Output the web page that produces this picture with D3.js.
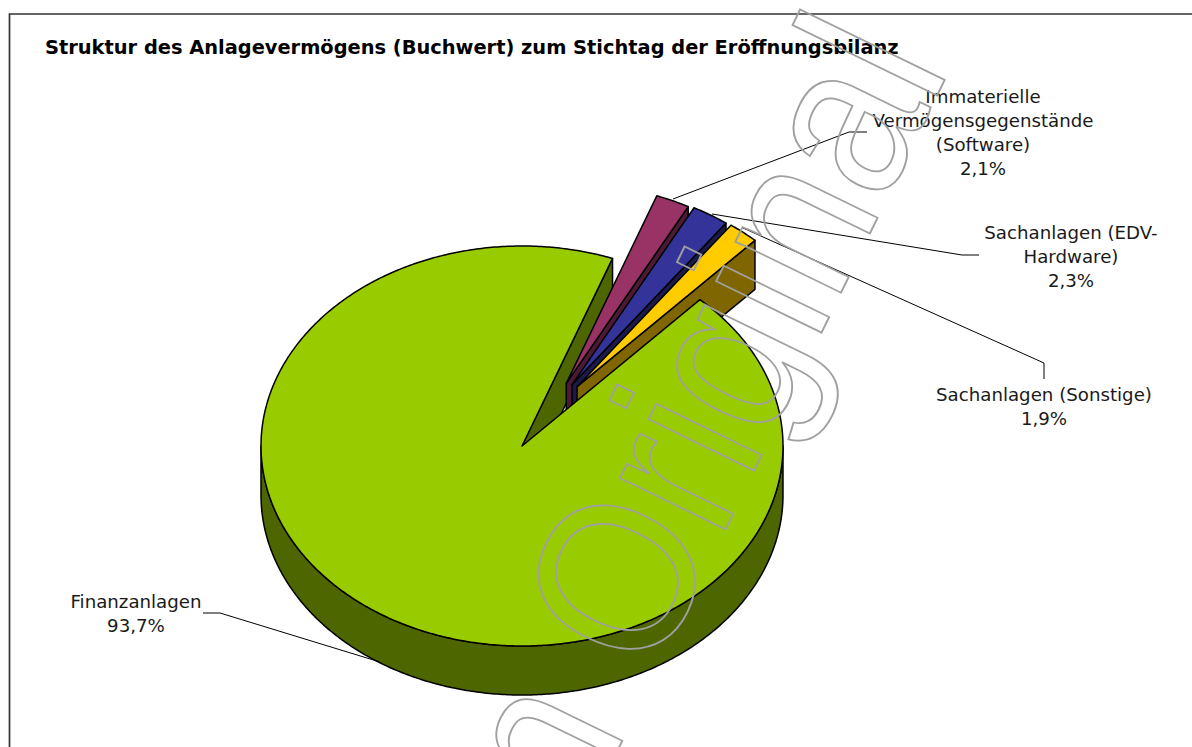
<!DOCTYPE html>
<html lang="de">
<head>
    <meta charset="UTF-8">
    <script src="https://cdn.jsdelivr.net/npm/d3@7"></script>
    <title>Struktur des Anlagevermögens</title>
    <style>
        * { margin: 0; padding: 0; box-sizing: border-box; }
        body { background: white; overflow: hidden; }
        svg { display: block; }
        text { font-family: "DejaVu Sans", Verdana, sans-serif; fill: #1a1a1a; }
    </style>
</head>
<body>
    <svg width="1192" height="747"></svg>
    <script>
        let categories = ['Immaterielle Vermögensgegenstände (Software)', 'Sachanlagen (EDV-Hardware)', 'Sachanlagen (Sonstige)', 'Finanzanlagen']
        let shares = [2.1, 2.3, 1.9, 93.7]
        let explosion = [0.356, 0.362, 0.364]
        let topColors = ['#993366', '#333399', '#ffcc00', '#99cc00']
        let wallColors = ['#4d1a33', '#1a1a4d', '#806600', '#4d6600']
        let labelLines = [
            ['Immaterielle', 'Vermögensgegenstände', '(Software)', '2,1%'],
            ['Sachanlagen (EDV-', 'Hardware)', '2,3%'],
            ['Sachanlagen (Sonstige)', '1,9%'],
            ['Finanzanlagen', '93,7%']
        ]
        let labelCenters = [[983, 97], [1071, 233], [1044, 395], [136, 602]]
        let leaders = [
            [[673, 199], [849, 132], [867, 132]],
            [[712, 214], [962, 255], [979, 255]],
            [[743, 228], [1044, 363], [1044, 379]],
            [[380, 662], [220, 613], [203, 613]]
        ]

        const cx = 522, cy = 446, rx = 261, ry = 200, depth = 49
        const startDeg = 20.3, lineGap = 24
        const fanCenter = 32 * Math.PI / 180, fan = 0.45

        let svg = d3.select('svg')
        let color = d3.scaleOrdinal().domain(categories).range(topColors)
        let wall = d3.scaleOrdinal().domain(categories).range(wallColors)

        let pie = d3.pie().sort(null)
            .startAngle(startDeg * Math.PI / 180)
            .endAngle((startDeg + 360) * Math.PI / 180)
        let arcs = pie(shares).map((d, i) => ({ ...d, name: categories[i], k: explosion[i] }))

        // tilted pie: angle -> point on the ellipse
        let project = (a, k = 1) => [rx * k * Math.sin(a), -ry * k * Math.cos(a)]
        let line = d3.line()

        function arcPoints(a0, a1, dx, dy) {
            let n = Math.ceil(Math.abs(a1 - a0) / 0.01)
            return d3.range(n + 1).map(i => {
                let p = project(a0 + (a1 - a0) * i / n)
                return [p[0] + dx, p[1] + dy]
            })
        }

        let g = svg.append('g').attr('transform', `translate(${cx},${cy})`)
        let addPath = (pts, fill) => g.append('path')
            .attr('d', line(pts) + 'Z')
            .attr('fill', fill)
            .attr('stroke', 'black')
            .attr('stroke-width', 1.5)
            .attr('stroke-linejoin', 'round')

        let main = arcs[3]

        // inner wall of the big slice, seen through the gap
        let edgePt = project(main.endAngle)
        addPath([[0, 0], edgePt, [edgePt[0], edgePt[1] + depth], [0, depth]], wall(main.name))

        // exploded slices, back to front
        arcs.slice(0, 3).forEach(d => {
            let mid = (d.startAngle + d.endAngle) / 2
            let off = project(fanCenter + fan * (mid - fanCenter), d.k)
            let outer = project(d.endAngle)
            let x1 = outer[0] + off[0], y1 = outer[1] + off[1]
            addPath([off, [x1, y1], [x1, y1 + depth], [off[0], off[1] + depth]], wall(d.name))
            addPath([off, ...arcPoints(d.startAngle, d.endAngle, off[0], off[1])], color(d.name))
        })

        // outer wall, front half of the big slice only
        let front = arcPoints(Math.PI / 2, 3 * Math.PI / 2, 0, 0)
        let frontLow = arcPoints(3 * Math.PI / 2, Math.PI / 2, 0, depth)
        addPath([...front, ...frontLow], wall(main.name))
        addPath([[0, 0], ...arcPoints(main.startAngle, main.endAngle, 0, 0)], color(main.name))

        // leader lines
        svg.selectAll('.leader')
            .data(leaders)
            .join('path')
            .attr('class', 'leader')
            .attr('d', d => line(d))
            .attr('fill', 'none')
            .attr('stroke', 'black')
            .attr('stroke-width', 1)

        // labels
        labelLines.forEach((lines, i) => {
            svg.append('text')
                .attr('text-anchor', 'middle')
                .attr('font-size', 18.2)
                .selectAll('tspan')
                .data(lines)
                .join('tspan')
                .attr('x', labelCenters[i][0])
                .attr('y', (d, j) => labelCenters[i][1] + j * lineGap + 6)
                .text(d => d)
        })

        svg.append('text')
            .attr('x', 45)
            .attr('y', 54)
            .attr('font-size', 19.4)
            .attr('font-weight', 'bold')
            .style('fill', 'black')
            .text('Struktur des Anlagevermögens (Buchwert) zum Stichtag der Eröffnungsbilanz')

        // frame, open on the right and at the bottom
        svg.append('path')
            .attr('d', line([[9.5, 747], [9.5, 14], [1192, 14]]))
            .attr('fill', 'none')
            .attr('stroke', '#333')
            .attr('stroke-width', 1.7)

        // watermark
        svg.append('text')
            .attr('transform', 'translate(950.5,68) rotate(-64) scale(0.89,1)')
            .attr('text-anchor', 'end')
            .attr('font-size', 222)
            .style('font-family', '"Liberation Sans", Arial, sans-serif')
            .style('fill', 'none')
            .attr('stroke', '#a0a0a0')
            .attr('stroke-width', 1.9)
            .text('Kein Original')
    </script>
</body>
</html>
